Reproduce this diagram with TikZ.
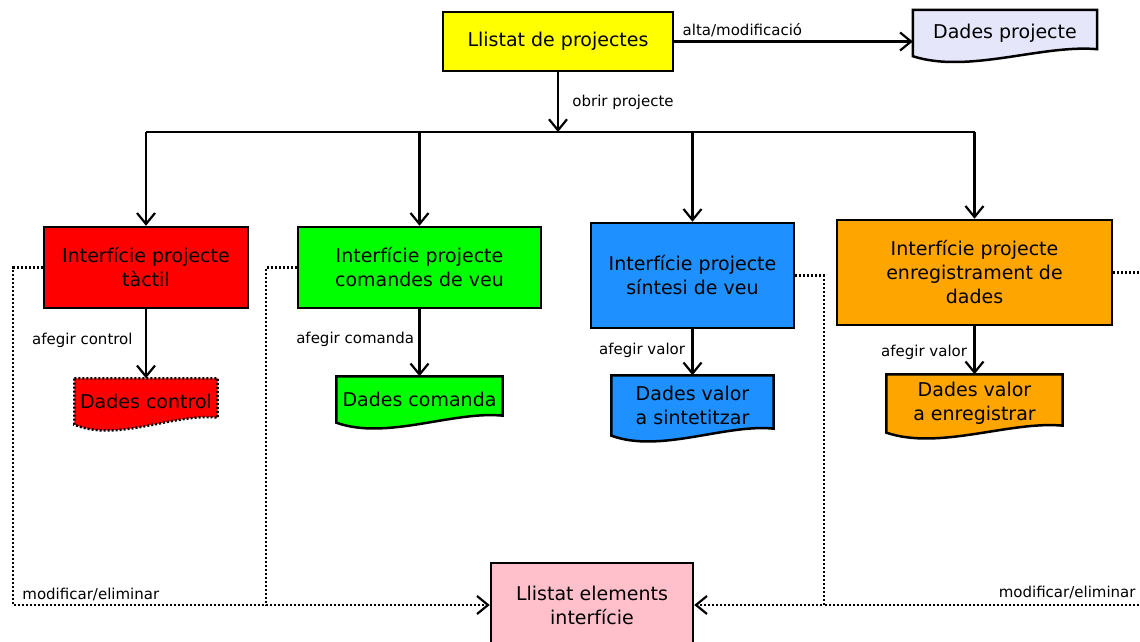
\documentclass[tikz,border=0pt]{standalone}
\usepackage{fontspec}
\setmainfont{DejaVu Sans}
\usepackage{tikz}
\usetikzlibrary{arrows.meta,positioning,calc}
\definecolor{llistyellow}{HTML}{FFFF00}
\definecolor{tactilred}{HTML}{FF0000}
\definecolor{veugreen}{HTML}{00FF00}
\definecolor{sintesiblue}{HTML}{1E90FF}
\definecolor{enregorange}{HTML}{FFA500}
\definecolor{elempink}{HTML}{FFC0CB}
\definecolor{dadeslav}{HTML}{E6E6FA}
\pgfdeclarelayer{background}
\pgfsetlayers{background,main}

% sheet with a wavy bottom edge, drawn behind an existing node
\newcommand{\docsheet}[2]{%
  \begin{pgfonlayer}{background}
    \draw[sheet,#2] (#1.north west) -- (#1.north east) -- ([yshift=7pt]#1.south east)
      .. controls ($(#1.south west)!0.7!(#1.south east)+(0,12pt)$)
             and ($(#1.south west)!0.3!(#1.south east)+(0,-18pt)$) .. (#1.south west) -- cycle;
  \end{pgfonlayer}}

\begin{document}
\begin{tikzpicture}[
  x=1pt, y=-1pt,
  box/.style={draw, line width=2.5pt, align=center, inner sep=2pt, font=\fontsize{19}{24}\selectfont},
  doc/.style={align=center, inner sep=2pt, font=\fontsize{19}{24}\selectfont},
  sheet/.style={draw, line width=2.5pt},
  lbl/.style={font=\fontsize{15}{17}\selectfont},
  arrow/.style={-{Straight Barb[length=11pt,width=18pt]}, line width=2.2pt},
  modif/.style={dash pattern=on 2pt off 2pt, line width=2.2pt}
]
\useasboundingbox (0,0) rectangle (1140,642);

\node[box, fill=llistyellow, minimum width=230pt, minimum height=59pt] (proj) at (558,41.5) {Llistat de projectes};
\node[doc, minimum width=184pt, minimum height=46pt] (projdata) at (1005,33) {Dades projecte};
\docsheet{projdata}{fill=dadeslav}

\node[box, fill=tactilred, minimum width=204pt, minimum height=81pt] (tactil) at (146,267.5) {Interfície projecte\\tàctil};
\node[box, fill=veugreen, minimum width=243pt, minimum height=81pt] (veu) at (419.5,267.5) {Interfície projecte\\comandes de veu};
\node[box, fill=sintesiblue, minimum width=203pt, minimum height=105pt] (sintesi) at (692.5,275.5) {Interfície projecte\\síntesi de veu};
\node[box, fill=enregorange, minimum width=275pt, minimum height=105pt] (enreg) at (974.5,272.5) {Interfície projecte\\enregistrament de\\dades};

\node[doc, minimum width=143pt, minimum height=46pt, below=69pt of tactil] (ctrl) {Dades control};
\docsheet{ctrl}{fill=tactilred, dash pattern=on 2pt off 2pt}
\node[doc, minimum width=166pt, minimum height=46pt, below=67pt of veu] (cmd) {Dades comanda};
\docsheet{cmd}{fill=veugreen}
\node[doc, minimum width=162pt, minimum height=60pt, below=46pt of sintesi] (synth) {Dades valor\\a sintetitzar};
\docsheet{synth}{fill=sintesiblue}
\node[doc, minimum width=176pt, minimum height=58pt, below=48pt of enreg] (rec) {Dades valor\\a enregistrar};
\docsheet{rec}{fill=enregorange}

\node[box, fill=elempink, minimum width=202pt, minimum height=84pt] (elements) at (592,605) {Llistat elements\\interfície};

% project list
\draw[arrow] (proj.east) -- (proj.east -| projdata.west)
  node[lbl, pos=0, above right, xshift=4pt] {alta/modificació};
\coordinate (bus) at (558,132);
\draw[arrow] (proj) -- (bus) node[lbl, midway, right, xshift=10pt] {obrir projecte};
\draw[line width=2.2pt] (tactil.north |- bus) -- (enreg.north |- bus);
\foreach \b in {tactil,veu,sintesi,enreg}
  \draw[arrow] (\b.north |- bus) -- (\b.north);

% data of each interface
\draw[arrow] (tactil.south) -- (ctrl.north) node[lbl, midway, left, xshift=-9pt, yshift=3pt] {afegir control};
\draw[arrow] (veu.south) -- (cmd.north) node[lbl, midway, left, xshift=-1pt, yshift=3pt] {afegir comanda};
\draw[arrow] (sintesi.south) -- (synth.north) node[lbl, midway, left, xshift=-3pt, yshift=2pt] {afegir valor};
\draw[arrow] (enreg.south) -- (rec.north) node[lbl, midway, left, xshift=-3pt, yshift=-2pt] {afegir valor};

% modify / delete
\coordinate (lrail) at (13,605);
\coordinate (mrail) at (266,605);
\coordinate (rrail) at (824,605);
\coordinate (frail) at (1146,605);
\draw[modif] (tactil.west) -| (lrail) node[lbl, above right, xshift=5pt] {modificar/eliminar} -- (mrail);
\draw[modif, arrow] (veu.west) -| (mrail) -- (elements.west);
\draw[modif] (enreg.east) -| (frail) node[lbl, above left, xshift=-6pt, yshift=2pt] {modificar/eliminar} -- (rrail);
\draw[modif, arrow] (sintesi.east) -| (rrail) -- (elements.east);
\end{tikzpicture}
\end{document}
